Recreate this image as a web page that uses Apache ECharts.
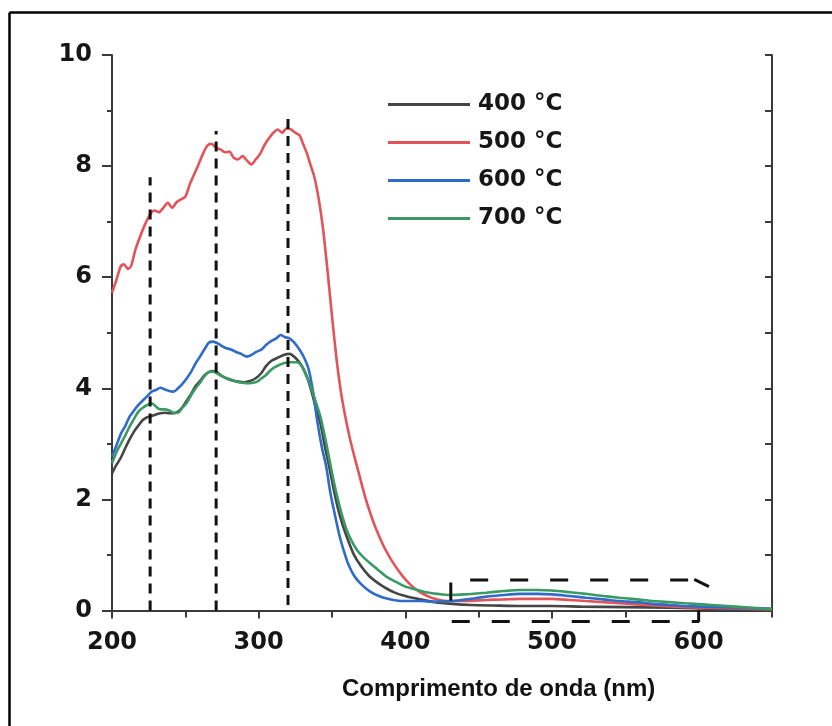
<!DOCTYPE html>
<html>
<head>
<meta charset="utf-8">
<script src="https://cdn.jsdelivr.net/npm/echarts@6/dist/echarts.min.js"></script>
<style>
  html, body { margin: 0; padding: 0; background: #ffffff; }
  #chart { width: 832px; height: 726px; }
</style>
</head>
<body>
<div id="chart"></div>
<script>
// Absorbance spectra of the samples calcined at 400–700 °C (wavelength in nm)
const wl400 = [200,203,206,209,212,215,218,221,224,227,230,233,236,239,242,245,248,251,254,257,260,263,266,269,272,275,278,282,286,290,294,298,302,305,309,313,317,321,325,329,333,336,339,342,345,348,351,354,357,361,365,370,375,380,385,392,400,410,420,432,445,460,480,500,520,550,580,610,650];
const abs400 = [2.47,2.62,2.75,2.92,3.08,3.22,3.33,3.43,3.48,3.50,3.53,3.55,3.56,3.55,3.55,3.58,3.66,3.78,3.90,4.04,4.13,4.23,4.29,4.31,4.28,4.22,4.18,4.14,4.12,4.11,4.13,4.18,4.28,4.40,4.50,4.55,4.60,4.62,4.55,4.42,4.20,3.95,3.65,3.38,2.97,2.60,2.20,1.84,1.56,1.26,1.00,0.79,0.63,0.52,0.43,0.33,0.26,0.20,0.15,0.12,0.10,0.09,0.08,0.08,0.07,0.06,0.05,0.03,0.02];

const wl500 = [200,203,206,208,211,213,216,219,222,226,229,232,235,238,241,244,247,250,253,256,259,262,265,268,271,274,277,280,283,286,289,292,295,298,301,304,307,310,313,316,319,322,325,328,330,333,335,338,341,344,347,350,353,356,359,362,365,368,372,376,380,385,390,395,400,405,410,415,420,428,440,455,467,478,490,500,512,523,546,569,591,614,650];
const abs500 = [5.72,5.95,6.20,6.23,6.15,6.20,6.50,6.72,6.92,7.13,7.20,7.17,7.25,7.34,7.25,7.35,7.40,7.45,7.67,7.85,8.03,8.22,8.37,8.40,8.33,8.30,8.25,8.26,8.15,8.12,8.18,8.10,8.03,8.12,8.22,8.38,8.50,8.60,8.66,8.60,8.68,8.66,8.60,8.55,8.42,8.22,8.05,7.80,7.40,6.85,6.10,5.30,4.55,3.95,3.50,3.12,2.80,2.50,2.10,1.76,1.47,1.17,0.93,0.73,0.56,0.43,0.33,0.26,0.21,0.17,0.17,0.19,0.20,0.21,0.21,0.21,0.19,0.17,0.13,0.09,0.06,0.04,0.02];

const wl600 = [200,203,206,209,212,215,218,221,224,227,230,233,236,239,242,245,248,251,254,257,260,263,266,269,272,275,278,281,285,288,292,295,298,302,305,308,312,315,318,321,324,328,331,334,337,340,343,346,349,352,355,358,361,365,370,376,382,388,394,400,410,420,432,445,455,467,478,490,500,512,523,535,546,558,569,580,591,614,650];
const abs600 = [2.77,2.97,3.18,3.32,3.49,3.60,3.70,3.78,3.86,3.94,3.97,4.01,3.98,3.95,3.94,4.00,4.08,4.18,4.30,4.45,4.57,4.70,4.82,4.84,4.81,4.76,4.72,4.70,4.65,4.62,4.57,4.60,4.65,4.70,4.78,4.84,4.90,4.96,4.92,4.90,4.83,4.69,4.55,4.35,3.95,3.40,2.95,2.60,2.10,1.72,1.36,1.08,0.84,0.63,0.47,0.34,0.26,0.21,0.18,0.17,0.17,0.16,0.17,0.21,0.25,0.28,0.30,0.30,0.29,0.26,0.23,0.20,0.17,0.15,0.12,0.10,0.08,0.06,0.03];

const wl700 = [200,203,206,209,212,215,218,221,224,227,230,233,236,239,242,245,248,251,254,257,260,263,266,269,272,275,278,282,285,289,292,296,299,302,305,308,311,314,317,321,326,330,333,336,339,342,345,348,351,354,357,360,363,367,371,376,381,387,394,400,407,414,422,430,440,455,467,478,490,500,512,523,535,546,558,569,580,591,603,614,630,650];
const abs700 = [2.65,2.85,3.00,3.15,3.31,3.45,3.58,3.65,3.70,3.73,3.67,3.62,3.62,3.60,3.56,3.56,3.65,3.74,3.88,4.00,4.10,4.22,4.29,4.30,4.26,4.22,4.18,4.15,4.12,4.10,4.09,4.10,4.12,4.18,4.24,4.32,4.38,4.42,4.45,4.47,4.47,4.38,4.20,4.00,3.75,3.50,3.15,2.75,2.35,2.00,1.70,1.45,1.27,1.09,0.97,0.85,0.74,0.61,0.51,0.43,0.38,0.33,0.30,0.28,0.29,0.32,0.35,0.37,0.37,0.36,0.33,0.30,0.26,0.23,0.20,0.17,0.15,0.13,0.11,0.09,0.06,0.03];

const seriesNames = ['400 °C', '500 °C', '600 °C', '700 °C'];
const seriesColors = ['#454545', '#e2545a', '#2f6bc9', '#3a9a64'];

// Dashed guides at the three band positions
const guideWl = [226, 271, 320];
const guideTop = [7.8, 8.63, 8.96];
const guideBottom = [0, 0, 0.1];

// Dashed outline around the visible-range band, plus its cut corner
const boxWl = [600, 600, 431, 431, 596];
const boxAbs = [0, -0.2, -0.2, 0.55, 0.55];
const cornerWl = [597, 607];
const cornerAbs = [0.56, 0.43];

const xTitle = 'Comprimento de onda (nm)';

const pairs = (xs, ys) => xs.map((x, i) => [x, ys[i]]);

const axisColor = '#3a3a3a';
const labelFont = {
  fontFamily: 'DejaVu Sans',
  fontWeight: 'bold',
  fontSize: 24,
  color: '#161616'
};

const spectra = [
  [wl400, abs400], [wl500, abs500], [wl600, abs600], [wl700, abs700]
].map(([xs, ys], i) => ({
  name: seriesNames[i],
  type: 'line',
  data: pairs(xs, ys),
  showSymbol: false,
  smooth: 0.25,
  lineStyle: { color: seriesColors[i], width: 2.6 },
  itemStyle: { color: seriesColors[i] },
  z: 2 + i
}));

const guides = guideWl.map((w, i) => ({
  type: 'line',
  data: [[w, guideBottom[i]], [w, guideTop[i]]],
  showSymbol: false,
  silent: true,
  lineStyle: { color: '#111', width: 3, type: [10, 7] },
  z: 10
}));

const box = {
  type: 'line',
  data: pairs(boxWl, boxAbs),
  showSymbol: false,
  silent: true,
  clip: false,
  lineStyle: { color: '#111', width: 3, type: [18, 22] },
  z: 10
};

const corner = {
  type: 'line',
  data: pairs(cornerWl, cornerAbs),
  showSymbol: false,
  silent: true,
  clip: false,
  lineStyle: { color: '#111', width: 3 },
  z: 10
};

const chart = echarts.init(document.getElementById('chart'), null, { renderer: 'canvas' });

chart.setOption({
  animation: false,
  backgroundColor: '#ffffff',
  grid: { left: 112, right: 60, top: 55, bottom: 115.5, containLabel: false },
  title: {
    text: xTitle,
    left: 337,
    top: 672,
    textStyle: {
      fontFamily: 'Liberation Sans',
      fontWeight: 'bold',
      fontSize: 24,
      color: '#111'
    }
  },
  legend: {
    data: seriesNames,
    orient: 'vertical',
    left: 383,
    top: 88,
    icon: 'rect',
    itemWidth: 82,
    itemHeight: 3,
    itemGap: 15,
    textStyle: {
      fontFamily: 'DejaVu Sans',
      fontWeight: 'bold',
      fontSize: 23,
      color: '#161616',
      padding: [0, 0, 0, 3]
    }
  },
  xAxis: [
    {
      type: 'value', position: 'bottom', min: 200, max: 650, interval: 100,
      axisLine: { show: true, lineStyle: { color: axisColor, width: 2 } },
      axisTick: { show: true, length: 8, lineStyle: { color: axisColor, width: 2 } },
      axisLabel: Object.assign({ margin: 20, showMaxLabel: false }, labelFont),
      splitLine: { show: false }
    },
    {
      type: 'value', position: 'bottom', min: 200, max: 650, interval: 50,
      axisLine: { show: false },
      axisTick: { show: true, length: 4, lineStyle: { color: axisColor, width: 2 } },
      axisLabel: { show: false },
      splitLine: { show: false }
    },
    {
      type: 'value', position: 'top', min: 200, max: 650, interval: 50,
      axisLine: { show: true, lineStyle: { color: axisColor, width: 2 } },
      axisTick: { show: true, inside: true, length: 7, lineStyle: { color: axisColor, width: 2 } },
      axisLabel: { show: false },
      splitLine: { show: false }
    }
  ],
  yAxis: [
    {
      type: 'value', position: 'left', min: 0, max: 10, interval: 2,
      axisLine: { show: true, lineStyle: { color: axisColor, width: 2 } },
      axisTick: { show: true, length: 10, lineStyle: { color: axisColor, width: 2 } },
      axisLabel: Object.assign({ margin: 20 }, labelFont),
      splitLine: { show: false }
    },
    {
      type: 'value', position: 'left', min: 0, max: 10, interval: 1,
      axisLine: { show: false },
      axisTick: { show: true, length: 5, lineStyle: { color: axisColor, width: 2 } },
      axisLabel: { show: false },
      splitLine: { show: false }
    },
    {
      type: 'value', position: 'right', min: 0, max: 10, interval: 1,
      axisLine: { show: true, lineStyle: { color: axisColor, width: 2 } },
      axisTick: { show: true, inside: true, length: 7, lineStyle: { color: axisColor, width: 2 } },
      axisLabel: { show: false },
      splitLine: { show: false }
    }
  ],
  graphic: [
    { type: 'line', shape: { x1: 9.5, y1: 12.5, x2: 832, y2: 12.5 }, style: { stroke: '#000', lineWidth: 2.5 }, silent: true },
    { type: 'line', shape: { x1: 9.5, y1: 12.5, x2: 9.5, y2: 726 }, style: { stroke: '#000', lineWidth: 2.5 }, silent: true }
  ],
  series: spectra.concat(guides, [box, corner])
});
</script>
</body>
</html>
